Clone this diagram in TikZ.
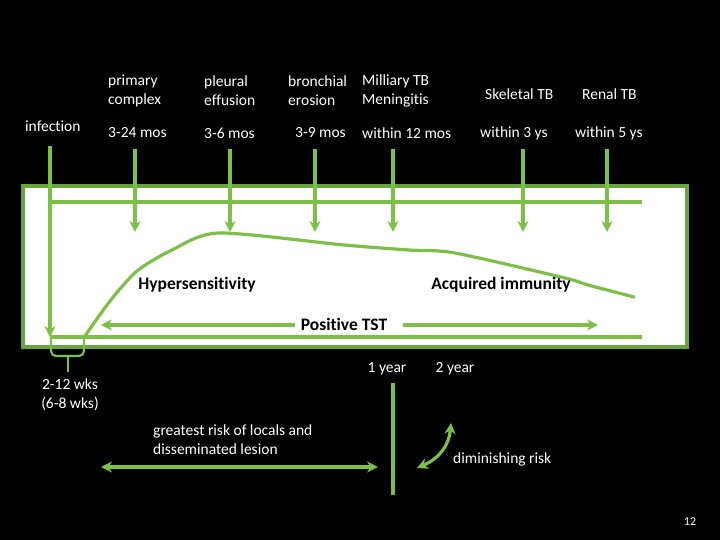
\documentclass[tikz,border=0pt]{standalone}
\usepackage{fontspec}
\setmainfont{Carlito}[Ligatures={NoCommon}]
\usetikzlibrary{arrows.meta}
\definecolor{tbgreen}{RGB}{125,192,72}
\definecolor{boxgreen}{RGB}{104,165,60}
\tikzset{
  lbl/.style={text=white,font=\fontsize{15.5}{19}\selectfont,inner sep=0pt,align=left},
  blbl/.style={text=black,font=\bfseries\fontsize{17.5}{19}\selectfont,inner sep=0pt},
  gline/.style={draw=tbgreen,line width=3.2pt},
  garrow/.style={gline,-{Stealth[length=11pt,width=11pt]}},
  gdarrow/.style={gline,{Stealth[length=11pt,width=11pt]}-{Stealth[length=11pt,width=11pt]}}
}
\begin{document}
\begin{tikzpicture}[x=1pt,y=-1pt]
\fill[black] (0,0) rectangle (720,540);
\useasboundingbox (0,0) rectangle (720,540);
% white box
\draw[draw=boxgreen,line width=3.5pt,fill=white] (23,186) rectangle (687,347);
% inner horizontal lines
\coordinate (tl) at (50,202); \coordinate (tr) at (642,202);
\coordinate (bl) at (50,337); \coordinate (br) at (642,337);
\draw[gline] (tl) -- (tr);
\draw[gline] (bl) -- (br);
% top labels
\node[lbl,anchor=west] (inf) at (25,126) {infection};
\node[lbl,anchor=west] (pc) at (108,90.5) {primary\\complex};
\node[lbl,anchor=west] (pe) at (204,90.5) {pleural\\effusion};
\node[lbl,anchor=west] (be) at (288,90.5) {bronchial\\erosion};
\node[lbl,anchor=west] (mt) at (362,90.5) {Milliary TB\\Meningitis};
\node[lbl,anchor=west] (sk) at (485,94) {Skeletal TB};
\node[lbl,anchor=west] (rn) at (582,94) {Renal TB};
\node[lbl,anchor=west] (t1) at (108,133) {3-24 mos};
\node[lbl,anchor=west] (t2) at (204,133) {3-6 mos};
\node[lbl,anchor=west] (t3) at (295,133) {3-9 mos};
\node[lbl,anchor=west] (t4) at (362,133) {within 12 mos};
\node[lbl,anchor=west] (t5) at (480,133) {within 3 ys};
\node[lbl,anchor=west] (t6) at (575,133) {within 5 ys};
% vertical arrows
\coordinate (i0) at (50,146); \coordinate (i1) at (50,337);
\draw[garrow] (i0) -- (i1);
\foreach \x [count=\k] in {135,230,315,393,523,607}{
  \coordinate (a\k) at (\x,149);
  \coordinate (b\k) at (\x,232);
  \draw[garrow] (a\k) -- (b\k);
}
% curve
\draw[gline,line join=round,line cap=round] plot[smooth,tension=0.45] coordinates
 {(85,336) (110,301) (137,271) (172,250) (219,233) (344,245) (409,250) (455,253) (565,278) (588,285) (634,297)};
% bracket
\coordinate (k1) at (51,337); \coordinate (k2) at (84,337);
\coordinate (ks) at (68,356); \coordinate (ke) at (68,372);
\draw[draw=tbgreen,line width=2.2pt,rounded corners=5pt] (k1) |- (ks) -| (k2);
\draw[draw=tbgreen,line width=2.2pt] (ks) -- (ke);
% box labels
\node[blbl] (hyp) at (197,285) {Hypersensitivity};
\node[blbl] (acq) at (501,285) {Acquired immunity};
\node[blbl] (tst) at (344,324) {Positive TST};
\coordinate (tstl) at (101,325); \coordinate (tstr) at (598,325);
\draw[garrow] (tst.west) ++(-6,1) -- (tstl);
\draw[garrow] (tst.east) ++(16,1) -- (tstr);
% lower labels
\node[lbl,align=center] (wks) at (70,394.5) {2-12 wks\\(6-8 wks)};
\node[lbl] (y1) at (387,369) {1 year};
\node[lbl] (y2) at (455,369) {2 year};
\coordinate (v0) at (393,383); \coordinate (v1) at (393,495);
\draw[gline] (v0) -- (v1);
\node[lbl,anchor=west] (gr) at (153,439.5) {greatest risk of locals and\\disseminated lesion};
\coordinate (g0) at (101,467); \coordinate (g1) at (378,467);
\draw[gdarrow] (g0) -- (g1);
\coordinate (d0) at (417,468); \coordinate (d1) at (451,423);
\draw[gdarrow] (d0) .. controls (440,458) and (449,445) .. (d1);
\node[lbl,anchor=west] (dim) at (453,459) {diminishing risk};
\node[lbl] (pg) at (690,522) {\fontsize{12}{13}\selectfont 12};
\end{tikzpicture}
\end{document}
